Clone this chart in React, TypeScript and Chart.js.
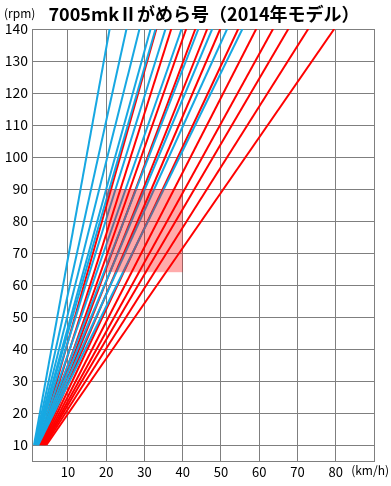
import React, { useEffect, useRef } from "react";
import { Chart, registerables } from "chart.js";

Chart.register(...registerables);

const TITLE = "7005mkⅡがめら号（2014年モデル）";
const Y_UNIT = "(rpm)";
const X_UNIT = "(km/h)";

const rpmRange = [10, 140];
const blueStart = [1.13, 1.27, 1.38, 1.47, 1.51, 1.59, 1.73, 1.86, 1.98, 2.1, 2.23];
const blueEnd = [20.9, 25.3, 28.7, 31.6, 32.9, 35.5, 39.7, 44.1, 47.7, 51.6, 55.6];
const redStart = [2.36, 2.53, 2.7, 2.8, 2.93, 3.08, 3.28, 3.49, 3.68, 3.85, 4.07, 4.37];
const redEnd = [33.1, 37.0, 40.9, 43.3, 46.4, 49.8, 54.5, 59.2, 63.6, 67.6, 72.8, 79.6];

const xTicks = [10, 20, 30, 40, 50, 60, 70, 80, 90];
const yTicks = [10, 20, 30, 40, 50, 60, 70, 80, 90, 100, 110, 120, 130, 140];

const zoneX = [20, 40];
const zoneY = [64, 90];

const X_MIN = 0.6;
const X_MAX = 90;
const Y_MIN = 5;
const Y_MAX = 140;

const BLUE = "#17A8E2";
const RED = "#FF0000";
const FONT = '"Noto Sans CJK JP", "Noto Sans", sans-serif';

export default function App() {
  const ref = useRef<HTMLCanvasElement | null>(null);

  useEffect(() => {
    document.body.style.margin = "0";
    const canvas = ref.current;
    if (!canvas) return;

    const mk = (s: number[], e: number[], color: string) =>
      s.map((sv, i) => ({
        data: [
          { x: sv, y: rpmRange[0] },
          { x: e[i], y: rpmRange[1] },
        ],
        borderColor: color,
        backgroundColor: color,
        borderWidth: 2,
        pointRadius: 0,
        showLine: true,
        fill: false,
      }));

    const overlay = {
      id: "overlay",
      afterDatasetsDraw(chart: any) {
        const { ctx, scales } = chart;
        const xs = scales.x;
        const ys = scales.y;
        const x1 = xs.getPixelForValue(zoneX[0]);
        const x2 = xs.getPixelForValue(zoneX[1]);
        const y1 = ys.getPixelForValue(zoneY[1]);
        const y2 = ys.getPixelForValue(zoneY[0]);
        ctx.save();
        ctx.fillStyle = "rgba(255,0,0,0.33)";
        ctx.fillRect(x1, y1, x2 - x1, y2 - y1);
        ctx.restore();
      },
      afterDraw(chart: any) {
        const { ctx, chartArea } = chart;
        ctx.save();
        ctx.fillStyle = "#000";
        ctx.font = `bold 18px ${FONT}`;
        ctx.textAlign = "center";
        ctx.textBaseline = "middle";
        ctx.fillText(TITLE, (chartArea.left + chartArea.right) / 2 + 1, 14);
        ctx.font = `12px ${FONT}`;
        ctx.textAlign = "left";
        ctx.fillText(Y_UNIT, 4, 13);
        ctx.textAlign = "right";
        ctx.fillText(X_UNIT, 389, 470);
        ctx.restore();
      },
    };

    const chart = new Chart(canvas, {
      type: "scatter",
      data: {
        datasets: [...mk(blueStart, blueEnd, BLUE), ...mk(redStart, redEnd, RED)] as any,
      },
      options: {
        animation: false,
        responsive: false,
        maintainAspectRatio: false,
        layout: { padding: { top: 29, right: 17, left: 0, bottom: 0 } },
        plugins: {
          legend: { display: false },
          tooltip: { enabled: false },
          title: { display: false },
        },
        scales: {
          x: {
            type: "linear",
            min: X_MIN,
            max: X_MAX,
            afterBuildTicks: (s: any) => {
              s.ticks = xTicks.map((v) => ({ value: v }));
            },
            afterFit: (s: any) => {
              s.height = 25;
            },
            grid: { color: "#7f7f7f", lineWidth: 1, drawTicks: false },
            border: { color: "#7f7f7f", width: 1 },
            ticks: {
              color: "#000",
              font: { family: FONT, size: 13 },
              padding: 3,
              maxRotation: 0,
              autoSkip: false,
              callback: (v: any) => (Number(v) === 90 ? "" : String(v)),
            },
          },
          y: {
            type: "linear",
            min: Y_MIN,
            max: Y_MAX,
            afterBuildTicks: (s: any) => {
              s.ticks = yTicks.map((v) => ({ value: v }));
            },
            afterFit: (s: any) => {
              s.width = 32;
            },
            grid: { color: "#7f7f7f", lineWidth: 1, drawTicks: false },
            border: { color: "#7f7f7f", width: 1 },
            ticks: {
              color: "#000",
              font: { family: FONT, size: 14 },
              padding: 4,
              autoSkip: false,
            },
          },
        },
      },
      plugins: [overlay],
    } as any);

    return () => chart.destroy();
  }, []);

  return (
    <div style={{ width: 391, height: 486, background: "#fff" }}>
      <canvas ref={ref} width={391} height={486} style={{ display: "block" }} />
    </div>
  );
}
